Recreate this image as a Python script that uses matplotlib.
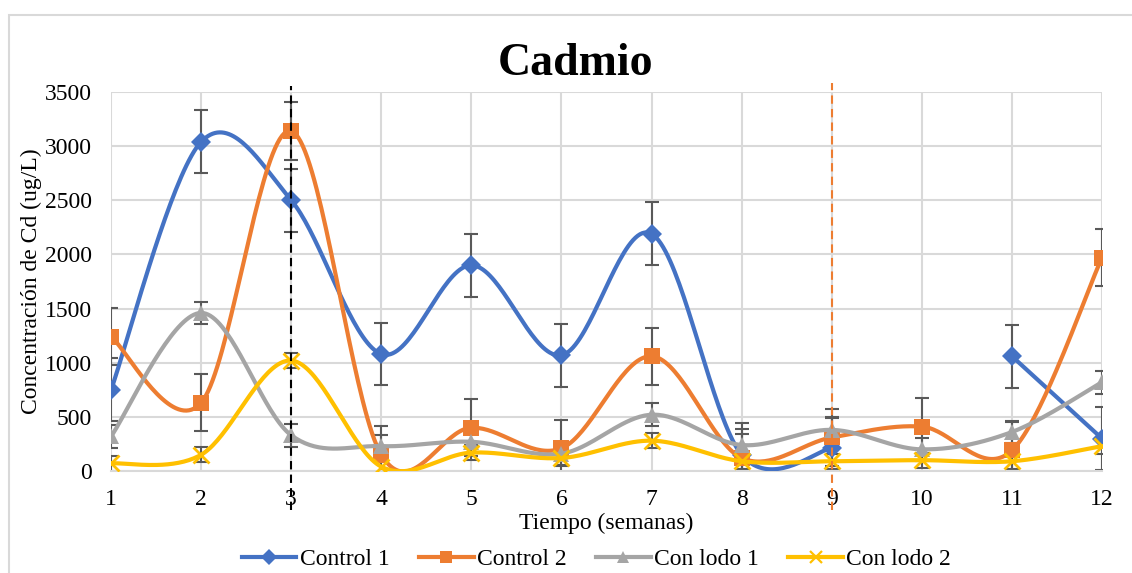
import numpy as np
import matplotlib
matplotlib.use('Agg')
import matplotlib.pyplot as plt
from matplotlib.lines import Line2D
from matplotlib.patches import Rectangle

# Cadmium concentration per week, four treatments
weeks = [1, 2, 3, 4, 5, 6, 7, 8, 9, 10, 11, 12]
control1 = [750, 3040, 2500, 1080, 1900, 1070, 2190, 150, 210, np.nan, 1060, 300]
control2 = [1240, 630, 3140, 150, 400, 210, 1060, 120, 310, 410, 190, 1970]
lodo1 = [320, 1460, 330, 230, 270, 160, 520, 240, 380, 200, 360, 820]
lodo2 = [70, 150, 1020, 40, 170, 120, 280, 90, 90, 100, 90, 230]

# error bar half-widths
err_c1 = [290] * 12
err_c2 = [265] * 12
err_l1 = [105] * 12
err_l2 = [70] * 12

names = ['Control 1', 'Control 2', 'Con lodo 1', 'Con lodo 2']
colors = ['#4472C4', '#ED7D31', '#A5A5A5', '#FFC000']
markers = ['D', 's', '^', 'x']
msizes = [10, 11, 11, 11]

plt.rcParams['font.family'] = ['Liberation Serif', 'DejaVu Serif']


def smooth(x, y, n=40):
    # Bezier segments with Catmull-Rom control points (like spreadsheet smoothed lines)
    x = np.asarray(x, float)
    y = np.asarray(y, float)
    if len(x) < 3:
        return x, y
    xs, ys = [], []
    t = np.linspace(0, 1, n)
    for i in range(len(x) - 1):
        j0 = max(i - 1, 0)
        j3 = min(i + 2, len(x) - 1)
        p0 = np.array([x[j0], y[j0]])
        p1 = np.array([x[i], y[i]])
        p2 = np.array([x[i + 1], y[i + 1]])
        p3 = np.array([x[j3], y[j3]])
        c1 = p1 + (p2 - p0) / 6
        c2 = p2 - (p3 - p1) / 6
        b = ((1 - t) ** 3)[:, None] * p1 + (3 * (1 - t) ** 2 * t)[:, None] * c1 \
            + (3 * (1 - t) * t ** 2)[:, None] * c2 + (t ** 3)[:, None] * p2
        xs.extend(b[:, 0])
        ys.extend(b[:, 1])
    return np.array(xs), np.array(ys)


def runs(x, y):
    # split a series at missing values
    x = np.asarray(x, float)
    y = np.asarray(y, float)
    ok = ~np.isnan(y)
    out, cur = [], []
    for i in range(len(x)):
        if ok[i]:
            cur.append(i)
        elif cur:
            out.append(cur)
            cur = []
    if cur:
        out.append(cur)
    return [(x[c], y[c]) for c in out]


fig = plt.figure(figsize=(11.32, 5.73), dpi=100)
ax = fig.add_axes([0.0981, 0.178, 0.8754, 0.6614])

series = [control1, control2, lodo1, lodo2]
errs = [err_c1, err_c2, err_l1, err_l2]
handles = []
for k, (vals, err) in enumerate(zip(series, errs)):
    ax.errorbar(weeks, vals, yerr=err, fmt='none', ecolor='#595959',
                elinewidth=1.5, capsize=5, capthick=1.5, zorder=2 + k * 0.1)
    for xr, yr in runs(weeks, vals):
        sx, sy = smooth(xr, yr)
        ax.plot(sx, sy, color=colors[k], lw=3, solid_capstyle='round', zorder=3 + k * 0.1)
    mew = 2 if markers[k] == 'x' else 0
    ax.plot(weeks, vals, ls='none', marker=markers[k], ms=msizes[k], color=colors[k],
            mew=mew, zorder=3.05 + k * 0.1)
    handles.append(Line2D([], [], color=colors[k], lw=3, marker=markers[k],
                          ms=msizes[k] - 2, mew=mew * 0.8))

# reference lines at weeks 3 and 9
ax.plot([3, 3], [-360, 3555], color='black', lw=1.5, ls=(0, (4, 2.5)), clip_on=False, zorder=5)
ax.plot([9, 9], [-360, 3585], color='#ED7D31', lw=1.5, ls=(0, (4, 2.5)), clip_on=False, zorder=5)

ax.set_xlim(1, 12)
ax.set_ylim(0, 3500)
ax.set_xticks(weeks)
ax.set_yticks(np.arange(0, 3501, 500))
ax.grid(True, color='#D9D9D9', lw=1.5)
ax.set_axisbelow(True)
for s in ['top', 'right', 'left']:
    ax.spines[s].set_visible(False)
ax.spines['bottom'].set_color('#D9D9D9')
ax.spines['bottom'].set_linewidth(1.5)
ax.tick_params(length=0, labelsize=17, colors='black')
ax.tick_params(axis='y', pad=14)
ax.tick_params(axis='x', pad=13)

ax.set_xlabel('Tiempo (semanas)', fontsize=17, labelpad=2)
ax.set_ylabel('Concentración de Cd (ug/L)', fontsize=17, labelpad=2)
fig.text(0.508, 0.869, 'Cadmio', fontsize=33, fontweight='bold', ha='center', va='baseline')

fig.legend(handles, names, loc='center', bbox_to_anchor=(0.527, 0.024), ncol=4,
           frameon=False, fontsize=17, handlelength=2.3, handletextpad=0.15,
           columnspacing=1.25, borderaxespad=0)

# chart border
fig.patches.append(Rectangle((9 / 1132, -0.02), 1.05, (573 - 15) / 573 + 0.02,
                             transform=fig.transFigure, fill=False,
                             edgecolor='#D9D9D9', lw=1.5))

fig.savefig('out.png', dpi=100)
